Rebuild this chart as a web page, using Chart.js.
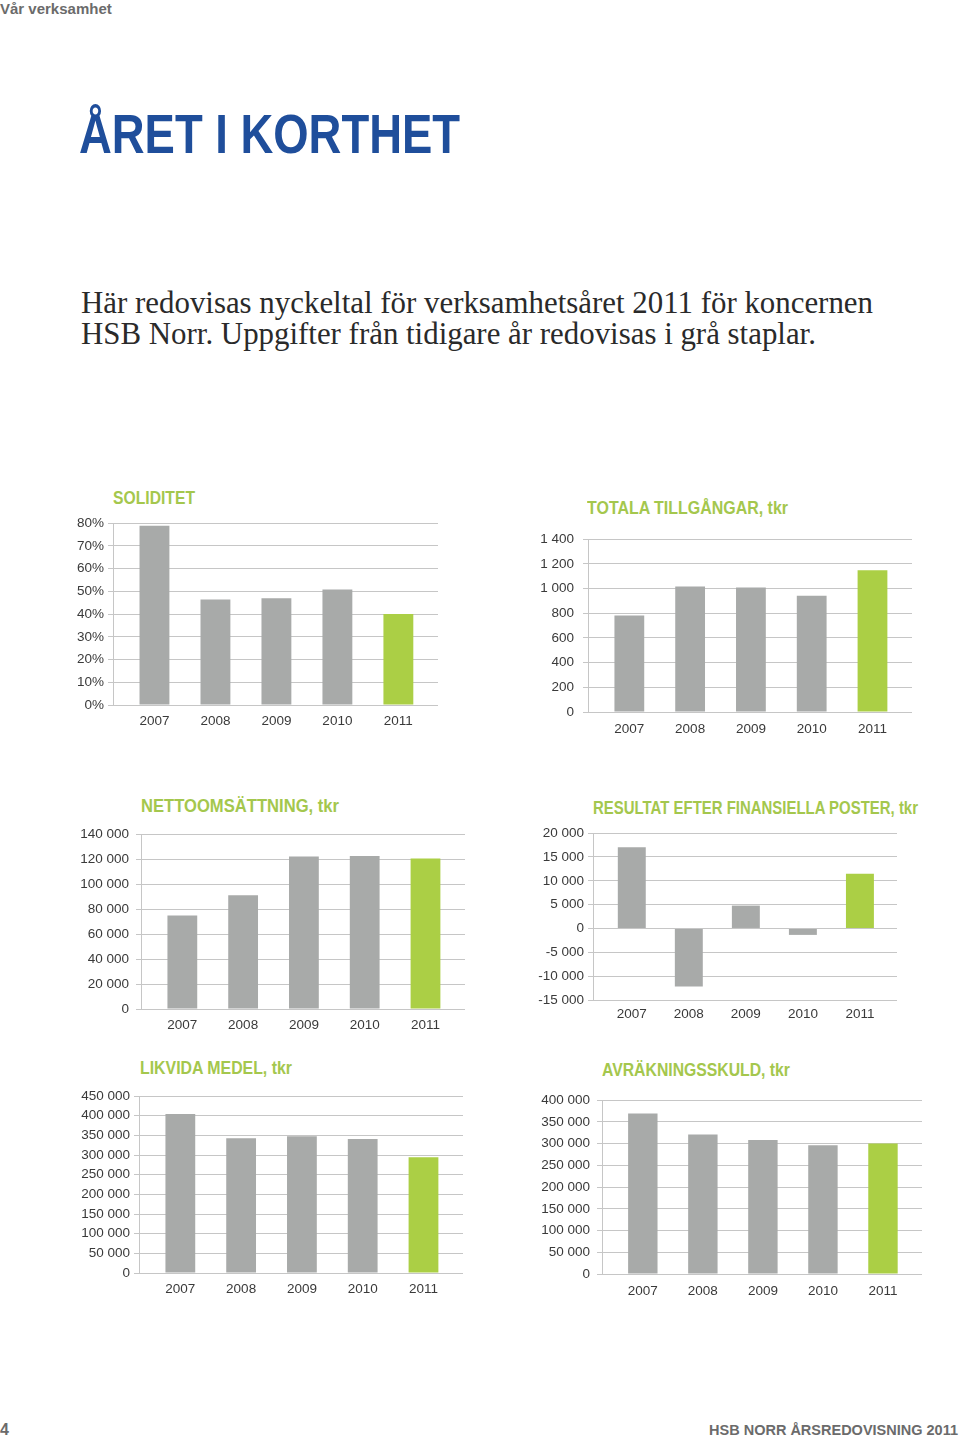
<!DOCTYPE html>
<html lang="sv">
<head>
<meta charset="utf-8">
<title>Året i korthet</title>
<script src="https://cdn.jsdelivr.net/npm/chart.js@4.4.1/dist/chart.umd.min.js"></script>
<style>
  html, body { margin: 0; padding: 0; background: #fff; }
  body { position: relative; width: 960px; height: 1440px; overflow: hidden; font-family: "Liberation Sans", Arial, sans-serif; }
  .abs { position: absolute; white-space: nowrap; transform-origin: 0 0; }
  #section { left: 0; top: 1px; font-size: 15px; line-height: 15px; font-weight: bold; color: #6b6b6b; }
  #heading { left: 79px; top: 106px; font-weight: bold; font-size: 56px; line-height: 56px; color: #1f4e9b; }
  #intro { left: 81px; top: 287px; font-family: "Liberation Serif", serif; font-size: 31px; line-height: 31px; color: #2a2a2a; }
  .chart-title { font-weight: bold; font-size: 18px; line-height: 20px; color: #a4c74d; }
  .chart-box { position: absolute; }
  #page-no { left: 0; top: 1422px; font-size: 16px; line-height: 16px; font-weight: bold; color: #6b6b6b; }
  #footer { right: 2px; top: 1422px; font-size: 14.5px; line-height: 16px; font-weight: bold; color: #6b6b6b; }
</style>
</head>
<body>
<div id="section" class="abs">Vår verksamhet</div>
<div id="heading" class="abs">ÅRET I KORTHET</div>
<div id="intro" class="abs">Här redovisas nyckeltal för verksamhetsåret 2011 för koncernen<br>HSB Norr. Uppgifter från tidigare år redovisas i grå staplar.</div>
<div id="page-no" class="abs">4</div>
<div id="footer" class="abs">HSB NORR ÅRSREDOVISNING 2011</div>

<script>
// years shown on every chart, 2011 is the reported year (green bar)
const YEARS = [2007, 2008, 2009, 2010, 2011];
const REPORT_YEAR = 2011;

const soliditet = [78.8, 46.4, 46.9, 50.8, 40.0];
const totalaTillgangar = [781, 1017, 1009, 941, 1148];
const nettoomsattning = [74800, 91100, 122000, 122500, 120400];
const resultat = [17050, -12150, 4800, -1350, 11450];
const likvidaMedel = [404400, 342800, 347900, 341100, 294700];
const avrakningsskuld = [369300, 321000, 308400, 296200, 300000];

const soliditetTicks = [0, 10, 20, 30, 40, 50, 60, 70, 80];
const tillgangarTicks = [0, 200, 400, 600, 800, 1000, 1200, 1400];
const omsattningTicks = [0, 20000, 40000, 60000, 80000, 100000, 120000, 140000];
const resultatTicks = [-15000, -10000, -5000, 0, 5000, 10000, 15000, 20000];
const likvidaTicks = [0, 50000, 100000, 150000, 200000, 250000, 300000, 350000, 400000, 450000];
const avrakningTicks = [0, 50000, 100000, 150000, 200000, 250000, 300000, 350000, 400000];

const GRAY = "#a8aaa9";
const GREEN = "#abcf45";
const GRID = "#c6c6c6";
const TEXT = "#3a3a3a";
const TICK_FONT = { family: "'Liberation Sans', Arial, sans-serif", size: 13.5 };

const PAD_TOP = 12;
const X_AXIS_H = 30;
const Y_AXIS_W = 72;

function fmtThousands(v) {
  const s = String(Math.abs(Math.round(v))).replace(/\B(?=(\d{3})+(?!\d))/g, " ");
  return (v < 0 ? "-" : "") + s;
}

// the print fonts are condensed; squeeze the installed sans/serif to the same width
function fitWidth(el, target) {
  const w = el.getBoundingClientRect().width;
  if (w > 0) el.style.transform = "scaleX(" + (target / w) + ")";
}

function addBarChart(p) {
  const left = Math.round(p.axisLeft) - Y_AXIS_W;
  const top = Math.round(p.plotTop) - PAD_TOP;
  const width = Math.round(p.axisRight) - left;
  const height = Math.round(p.plotBottom) - top + X_AXIS_H;

  const box = document.createElement("div");
  box.className = "chart-box";
  box.style.left = left + "px";
  box.style.top = top + "px";
  box.style.width = width + "px";
  box.style.height = height + "px";
  const canvas = document.createElement("canvas");
  box.appendChild(canvas);
  document.body.appendChild(box);

  const title = document.createElement("div");
  title.className = "abs chart-title";
  title.textContent = p.title;
  title.style.left = p.titleX + "px";
  title.style.top = p.titleTop + "px";
  document.body.appendChild(title);
  fitWidth(title, p.titleW);

  return new Chart(canvas.getContext("2d"), {
    type: "bar",
    data: {
      labels: YEARS,
      datasets: [{
        data: p.values,
        backgroundColor: YEARS.map((y) => (y === REPORT_YEAR ? GREEN : GRAY)),
        borderWidth: 0,
        categoryPercentage: 1,
        barPercentage: 0.49,
      }],
    },
    options: {
      responsive: true,
      maintainAspectRatio: false,
      animation: false,
      layout: { padding: { top: PAD_TOP, right: 0, bottom: 0, left: 0 } },
      plugins: {
        legend: { display: false },
        tooltip: { enabled: false },
      },
      scales: {
        x: {
          type: "linear",
          offset: false,
          min: YEARS[0] - 0.68,
          max: YEARS[YEARS.length - 1] + 0.65,
          afterBuildTicks: (s) => { s.ticks = YEARS.map((v) => ({ value: v })); },
          afterFit: (s) => { s.height = X_AXIS_H; },
          ticks: {
            color: TEXT,
            font: TICK_FONT,
            padding: p.xPad,
            maxRotation: 0,
            autoSkip: false,
            callback: (v) => String(v),
          },
          grid: { display: false, drawTicks: false },
          border: { display: false },
        },
        y: {
          min: p.ticks[0],
          max: p.ticks[p.ticks.length - 1],
          afterBuildTicks: (s) => { s.ticks = p.ticks.map((v) => ({ value: v })); },
          afterFit: (s) => { s.width = Y_AXIS_W; },
          ticks: {
            color: TEXT,
            font: TICK_FONT,
            padding: p.yPad,
            autoSkip: false,
            callback: p.format,
          },
          grid: { color: GRID, lineWidth: 1, tickLength: 5 },
          border: { color: GRID },
        },
      },
    },
  });
}

fitWidth(document.getElementById("heading"), 381);
fitWidth(document.getElementById("intro"), 792);

addBarChart({
  title: "SOLIDITET", titleX: 113, titleTop: 488, titleW: 82,
  axisLeft: 113, axisRight: 438, plotTop: 523, plotBottom: 705, xPad: 8, yPad: 4,
  values: soliditet, ticks: soliditetTicks, format: (v) => v + "%",
});
addBarChart({
  title: "TOTALA TILLGÅNGAR, tkr", titleX: 587, titleTop: 498, titleW: 201,
  axisLeft: 588, axisRight: 912, plotTop: 534, plotBottom: 712, xPad: 9, yPad: 9,
  values: totalaTillgangar, ticks: tillgangarTicks, format: fmtThousands,
});
addBarChart({
  title: "NETTOOMSÄTTNING, tkr", titleX: 141, titleTop: 796, titleW: 198,
  axisLeft: 141, axisRight: 465, plotTop: 831, plotBottom: 1009, xPad: 8, yPad: 7,
  values: nettoomsattning, ticks: omsattningTicks, format: fmtThousands,
});
addBarChart({
  title: "RESULTAT EFTER FINANSIELLA POSTER, tkr", titleX: 593, titleTop: 798, titleW: 325,
  axisLeft: 593, axisRight: 897, plotTop: 833, plotBottom: 1000, xPad: 6, yPad: 4,
  values: resultat, ticks: resultatTicks, format: fmtThousands,
});
addBarChart({
  title: "LIKVIDA MEDEL, tkr", titleX: 140, titleTop: 1058, titleW: 152,
  axisLeft: 139, axisRight: 463, plotTop: 1096, plotBottom: 1273, xPad: 8, yPad: 4,
  values: likvidaMedel, ticks: likvidaTicks, format: fmtThousands,
});
addBarChart({
  title: "AVRÄKNINGSSKULD, tkr", titleX: 602, titleTop: 1060, titleW: 188,
  axisLeft: 602, axisRight: 922, plotTop: 1097, plotBottom: 1274, xPad: 9, yPad: 7,
  values: avrakningsskuld, ticks: avrakningTicks, format: fmtThousands,
});
</script>
</body>
</html>
